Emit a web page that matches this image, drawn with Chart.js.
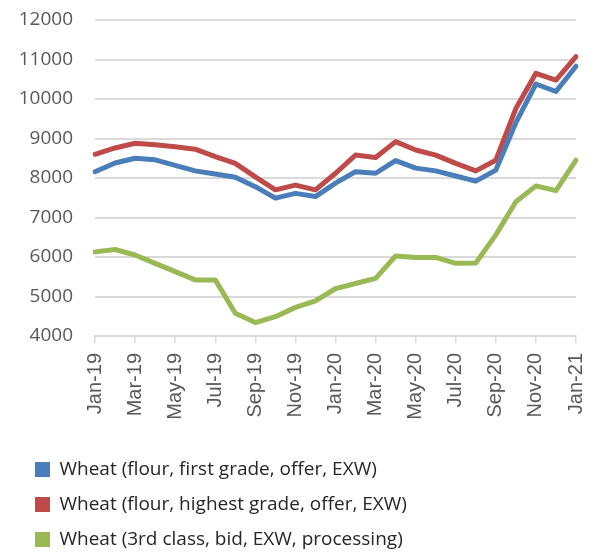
<!DOCTYPE html>
<html>
<head>
<meta charset="utf-8">
<script src="https://cdn.jsdelivr.net/npm/chart.js@4/dist/chart.umd.min.js"></script>
<style>
html,body{margin:0;padding:0;background:#fff}
#wrap{width:598px;height:554px}
</style>
</head>
<body>
<div id="wrap"><canvas id="c" width="598" height="554"></canvas></div>
<script>
const categories = ["Jan-19","Feb-19","Mar-19","Apr-19","May-19","Jun-19","Jul-19","Aug-19","Sep-19","Oct-19","Nov-19","Dec-19",
  "Jan-20","Feb-20","Mar-20","Apr-20","May-20","Jun-20","Jul-20","Aug-20","Sep-20","Oct-20","Nov-20","Dec-20","Jan-21"];
const firstGrade   = [8160,8380,8500,8460,8320,8180,8100,8020,7780,7490,7610,7530,7870,8160,8120,8440,8250,8180,8050,7920,8200,9400,10380,10190,10830];
const highestGrade = [8600,8760,8880,8840,8790,8730,8540,8370,8030,7700,7820,7700,8120,8580,8520,8920,8710,8580,8370,8180,8450,9760,10650,10480,11070];
const thirdClass   = [6130,6190,6050,5840,5630,5420,5420,4575,4340,4490,4725,4890,5200,5330,5460,6025,5990,5990,5840,5850,6560,7400,7800,7680,8450];
const seriesNames = ["Wheat (flour, first grade, offer, EXW)","Wheat (flour, highest grade, offer, EXW)","Wheat (3rd class, bid, EXW, processing)"];
const seriesColors = ["#4A7EBB","#BE4B48","#98B954"];
const yMin = 4000, yMax = 12000, yStep = 1000;

const seriesValues = [firstGrade, highestGrade, thirdClass];
const datasets = seriesValues.map((vals, i) => ({
  label: seriesNames[i],
  data: vals,
  borderColor: seriesColors[i],
  backgroundColor: seriesColors[i],
  borderWidth: 5,
  pointRadius: 0,
  pointHoverRadius: 0,
  tension: 0,
  borderJoinStyle: 'round',
  borderCapStyle: 'round',
  fill: false
}));

new Chart(document.getElementById('c'), {
  type: 'line',
  data: { labels: categories, datasets: datasets },
  options: {
    responsive: false,
    animation: false,
    layout: { padding: { left: 19, right: 22, top: 20, bottom: -5 } },
    plugins: {
      tooltip: { enabled: false },
      legend: {
        position: 'bottom',
        align: 'start',
        labels: {
          boxWidth: 15,
          boxHeight: 15,
          padding: 16,
          color: '#262626',
          font: { family: 'Open Sans', size: 19 },
          generateLabels: (chart) => Chart.defaults.plugins.legend.labels.generateLabels(chart).map(l => Object.assign(l, { lineWidth: 0 }))
        }
      }
    },
    scales: {
      x: {
        offset: false,
        grid: { drawOnChartArea: false, drawTicks: true, tickLength: 7, color: '#d9d9d9', lineWidth: 1.5 },
        border: { color: '#d9d9d9', width: 2 },
        ticks: {
          autoSkip: false,
          minRotation: 90,
          maxRotation: 90,
          padding: 10,
          color: '#595959',
          font: { family: 'Liberation Sans', size: 20 },
          callback: (v, i) => (i % 2 === 0 ? categories[i] : null)
        },
        afterFit: (s) => { s.height = 108; s.paddingLeft = 0; s.paddingRight = 0; }
      },
      y: {
        min: yMin,
        max: yMax,
        ticks: { stepSize: yStep, padding: 22, color: '#595959', font: { family: 'Open Sans', size: 19 }, callback: (v) => String(v) },
        grid: { color: '#d9d9d9', lineWidth: 2, drawTicks: false },
        border: { display: false },
        afterFit: (s) => { s.width = 76; s.paddingTop = 0; s.paddingBottom = 0; }
      }
    }
  }
});
</script>
</body>
</html>
